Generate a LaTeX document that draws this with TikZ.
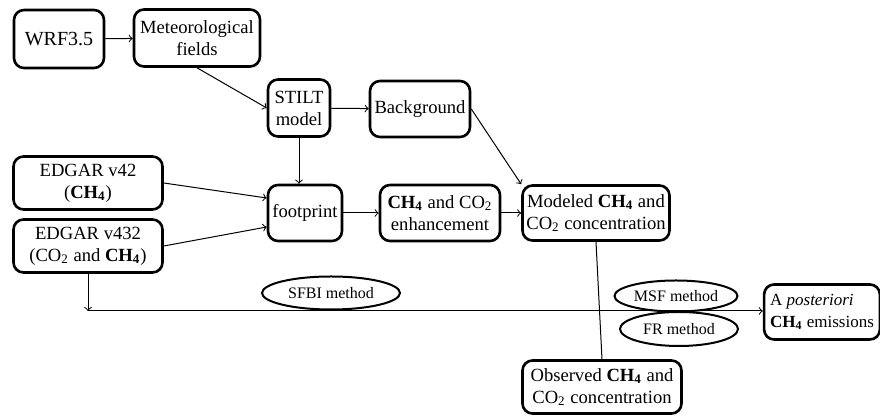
\documentclass[tikz,border=0pt]{standalone}
\usepackage{fontspec}
\setmainfont{Liberation Serif}
\usetikzlibrary{shapes.geometric}
\newcommand{\chf}{\textbf{CH\textsubscript{4}}}
\newcommand{\cotwo}{CO\textsubscript{2}}
\begin{document}
\begin{tikzpicture}[x=0.5pt, y=-0.5pt,
  box/.style={draw, rounded corners=5pt, line width=1.3pt, align=center, inner sep=0pt,
    font=\fontsize{9.3}{11}\selectfont},
  oval/.style={draw, ellipse, line width=1pt, inner sep=0pt, font=\fontsize{8}{9}\selectfont},
  every path/.style={line width=0.5pt}]
\useasboundingbox (0,0) rectangle (880,416);

\node[box, minimum width=45pt, minimum height=29pt, font=\fontsize{10}{11}\selectfont] (wrf) at (59,39) {WRF3.5};
\node[box, minimum width=63pt, minimum height=28.5pt] (met) at (197,38) {Meteorological\\fields};
\node[box, minimum width=31pt, minimum height=28.5pt] (stilt) at (299,108) {STILT\\model};
\node[box, minimum width=50pt, minimum height=28pt] (bg) at (420,109) {Background};

\node[box, minimum width=74.5pt, minimum height=26.5pt] (ed42) at (88,183) {EDGAR v42\\(\chf)};
\node[box, minimum width=74.5pt, minimum height=26.5pt] (ed432) at (88,246) {EDGAR v432\\(\cotwo{} and \chf)};
\node[box, minimum width=37pt, minimum height=28pt] (foot) at (305,213) {footprint};
\node[box, minimum width=60pt, minimum height=28pt] (enh) at (440,213) {\chf{} and \cotwo\\enhancement};
\node[box, minimum width=73.5pt, minimum height=27.5pt] (mod) at (596,213) {Modeled \chf{} and\\\cotwo{} concentration};
\node[box, minimum width=79.5pt, minimum height=26.5pt] (obs) at (602,387) {Observed \chf{} and\\\cotwo{} concentration};
\node[box, minimum width=55pt, minimum height=27.5pt, align=left, inner xsep=3pt,
  font=\fontsize{8.5}{11}\selectfont] (post) at (822,312) {A \textit{posteriori}\\\chf{} emissions};

\node[oval, minimum width=69pt, minimum height=16.5pt] (sfbi) at (331,293) {SFBI method};
\node[oval, minimum width=61.5pt, minimum height=15.5pt] (msf) at (676,296) {MSF method};
\node[oval, minimum width=59pt, minimum height=17pt] (fr) at (679,329) {FR method};

\coordinate (split) at (88,311);

\draw[->] (wrf) -- (met);
\draw[->] (met.south) -- (stilt.west);
\draw[->] (stilt) -- (bg);
\draw[->] (stilt.south) -- (stilt.south |- foot.north);
\draw[->] (ed42.east) -- ([yshift=7.5pt]foot.west);
\draw[->] (ed432.east) -- ([yshift=-7pt]foot.west);
\draw[->] (foot) -- (enh);
\draw[->] (enh) -- (mod);
\draw[->] (bg.east) -- (mod.north west);
\draw (mod.south) -- (obs.north);
\draw[->] (ed432.south) -- (split);
\draw[->] (split) -- (split -| post.west);
\end{tikzpicture}
\end{document}
